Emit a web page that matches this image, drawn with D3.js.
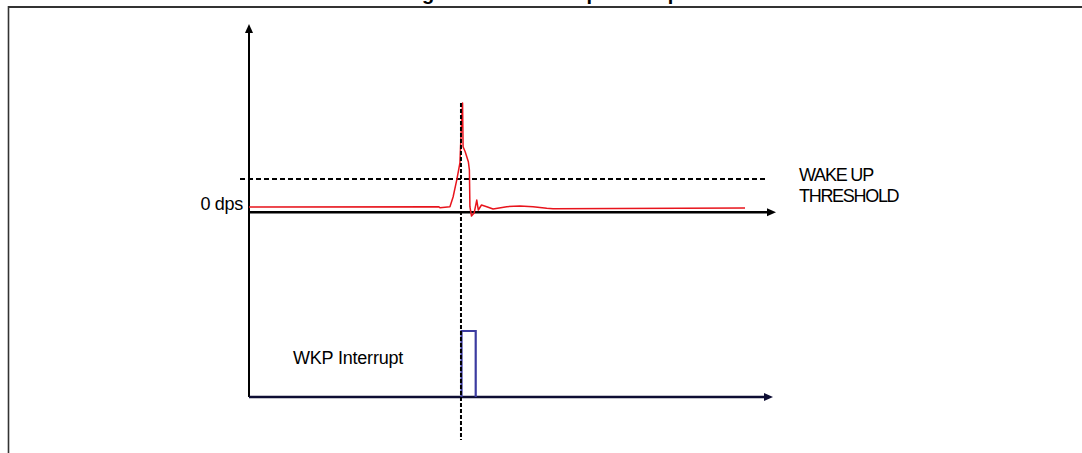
<!DOCTYPE html>
<html>
<head>
<meta charset="utf-8">
<script src="https://cdn.jsdelivr.net/npm/d3@7"></script>
<style>
  html, body { margin: 0; padding: 0; background: #fff; }
  svg { display: block; font-family: "Liberation Sans", Arial, sans-serif; }
</style>
</head>
<body>
<script>
// ---- data (time in arbitrary units 0..100, rate in arbitrary dps units) ----
const titleText = "Angular rate wake-up interrupt";
const rateTime  = [0, 36.1, 36.3, 38.2, 38.8, 39.5, 40.1, 40.4, 40.6, 40.7, 41.1, 41.7, 41.9, 42.0, 42.3, 42.8, 43.3, 43.6, 44.2, 45.2, 46.4, 49.0, 51.5, 54.0, 56.6, 57.8, 94.3];
const rateValue = [0, 0.3, -0.7, 0.3, 9.6, 26, 42.3, 80.8, 100, 58, 53.2, 43.6, 35.6, 0.3, -8.7, -5.8, 6.7, -2.9, 1.9, 0.3, -1.9, 0.3, 1, 0.3, -1.3, -1.6, -1];
const threshold = 27;
const eventTime = 40.3;
const intTime   = [40.4, 40.4, 43.1, 43.1];
const intValue  = [0, 1, 1, 0];
const labels = { zero: "0 dps", thr1: "WAKE UP", thr2: "THRESHOLD", wkp: "WKP Interrupt" };

const W = 1082, H = 453;
const svg = d3.select("body").append("svg").attr("width", W).attr("height", H);

// scales
const x = d3.scaleLinear().domain([0, 100]).range([249, 775]);
const yRate = d3.scaleLinear().domain([0, 100]).range([207, 103]);
const yInt = d3.scaleLinear().domain([0, 1]).range([397, 331]);

// title (clipped at top)
svg.append("text").attr("x", 541).attr("y", -0.5).attr("text-anchor", "middle")
  .attr("font-weight", "bold").attr("font-size", 20).attr("fill", "#000").text(titleText);

// frame
svg.append("line").attr("x1", 8).attr("x2", W).attr("y1", 7).attr("y2", 7)
  .attr("stroke", "#333").attr("stroke-width", 2);
svg.append("line").attr("x1", 8.5).attr("x2", 8.5).attr("y1", 6).attr("y2", H)
  .attr("stroke", "#333").attr("stroke-width", 1.6);

function arrowRight(xTip, yv, color) {
  svg.append("path").attr("d", `M${xTip},${yv} L${xTip - 9},${yv - 4} L${xTip - 9},${yv + 4} Z`).attr("fill", color);
}
function arrowUp(xv, yTip, color) {
  svg.append("path").attr("d", `M${xv},${yTip} L${xv - 4},${yTip + 9} L${xv + 4},${yTip + 9} Z`).attr("fill", color);
}

// y axis
svg.append("line").attr("x1", x(0)).attr("x2", x(0)).attr("y1", 30).attr("y2", yInt(0))
  .attr("stroke", "#000").attr("stroke-width", 2);
arrowUp(x(0), 24, "#000");

// upper x axis
const yAxisUp = yRate(-5);
svg.append("line").attr("x1", x(0)).attr("x2", x(100) - 4).attr("y1", yAxisUp).attr("y2", yAxisUp)
  .attr("stroke", "#000").attr("stroke-width", 2.5);
arrowRight(x(100) + 1, yAxisUp, "#000");

// threshold dashed line
svg.append("line").attr("x1", 240).attr("x2", 768).attr("y1", yRate(threshold)).attr("y2", yRate(threshold))
  .attr("stroke", "#000").attr("stroke-width", 2).attr("stroke-dasharray", "5,3");

// lower x axis
svg.append("line").attr("x1", x(0)).attr("x2", x(100) - 6).attr("y1", yInt(0)).attr("y2", yInt(0))
  .attr("stroke", "#0d0d33").attr("stroke-width", 2.5);
arrowRight(x(100) - 2, yInt(0), "#0d0d33");

// red rate signal
const rateData = rateTime.map((t, i) => [t, rateValue[i]]);
svg.append("path").datum(rateData)
  .attr("d", d3.line().x(d => x(d[0])).y(d => yRate(d[1])))
  .attr("fill", "none").attr("stroke", "#e8141c").attr("stroke-width", 1.5).attr("stroke-linejoin", "round");

// blue interrupt pulse
const intData = intTime.map((t, i) => [t, intValue[i]]);
svg.append("path").datum(intData)
  .attr("d", d3.line().x(d => x(d[0])).y(d => yInt(d[1])))
  .attr("fill", "none").attr("stroke", "#3b3ba0").attr("stroke-width", 2.2);

// vertical event dotted line
svg.append("line").attr("x1", x(eventTime)).attr("x2", x(eventTime)).attr("y1", 103).attr("y2", 440)
  .attr("stroke", "#000").attr("stroke-width", 2).attr("stroke-dasharray", "4,2");

// texts
svg.append("text").attr("x", 243).attr("y", 209.5).attr("text-anchor", "end")
  .attr("font-size", 18).attr("letter-spacing", "-0.3px").text(labels.zero);
svg.append("text").attr("x", 799).attr("y", 181).attr("font-size", 18)
  .attr("letter-spacing", "-1.2px").text(labels.thr1);
svg.append("text").attr("x", 799).attr("y", 202).attr("font-size", 18)
  .attr("letter-spacing", "-1.3px").text(labels.thr2);
svg.append("text").attr("x", 293).attr("y", 364).attr("font-size", 18)
  .attr("letter-spacing", "-0.2px").text(labels.wkp);
</script>
</body>
</html>
